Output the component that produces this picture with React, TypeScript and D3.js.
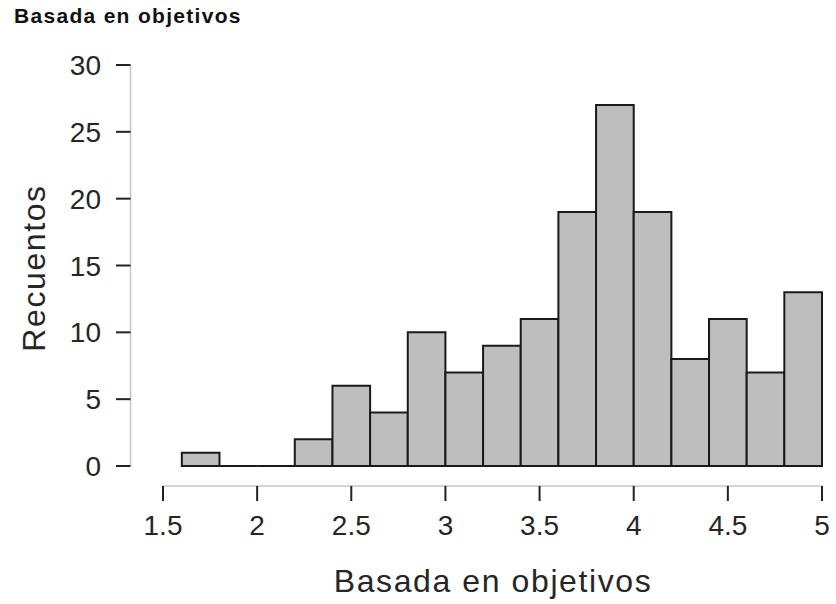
import { useRef, useEffect } from "react";
import * as d3 from "d3";

// histogram bins (0.2 wide) and counts
const binEdges = [1.6, 1.8, 2.0, 2.2, 2.4, 2.6, 2.8, 3.0, 3.2, 3.4, 3.6, 3.8, 4.0, 4.2, 4.4, 4.6, 4.8, 5.0];
const counts = [1, 0, 0, 2, 6, 4, 10, 7, 9, 11, 19, 27, 19, 8, 11, 7, 13];
const xTicks = [1.5, 2, 2.5, 3, 3.5, 4, 4.5, 5];
const yTicks = [0, 5, 10, 15, 20, 25, 30];

const title = "Basada en objetivos";
const xLabel = "Basada en objetivos";
const yLabel = "Recuentos";

export default function App() {
  const svgRef = useRef<SVGSVGElement>(null);

  useEffect(() => {
    if (!svgRef.current) return;
    const svg = d3.select(svgRef.current);
    svg.selectAll("*").remove();

    const font = "'Liberation Sans', Arial, sans-serif";
    const x = d3.scaleLinear().domain([1.5, 5]).range([163, 822]);
    const y = d3.scaleLinear().domain([0, 30]).range([466, 65]);

    const bins = counts.map((c, i) => ({ x0: binEdges[i], x1: binEdges[i + 1], n: c }));

    // Title
    svg
      .append("text")
      .attr("x", 14)
      .attr("y", 23)
      .attr("font-family", font)
      .attr("font-size", "21px")
      .attr("font-weight", "bold")
      .attr("letter-spacing", "1.3px")
      .attr("fill", "#111")
      .text(title);

    // Bars (paths so empty bins still show the baseline)
    svg
      .append("g")
      .selectAll("path")
      .data(bins)
      .enter()
      .append("path")
      .attr("d", (d) => {
        const p = d3.path();
        p.moveTo(x(d.x0), y(0));
        p.lineTo(x(d.x0), y(d.n));
        p.lineTo(x(d.x1), y(d.n));
        p.lineTo(x(d.x1), y(0));
        p.closePath();
        return p.toString();
      })
      .attr("fill", "#bebebe")
      .attr("stroke", "#1a1a1a")
      .attr("stroke-width", 2)
      .attr("stroke-linejoin", "miter");

    // Y axis
    const yAxisX = 130.5;
    svg
      .append("line")
      .attr("x1", yAxisX)
      .attr("x2", yAxisX)
      .attr("y1", y(30))
      .attr("y2", y(0))
      .attr("stroke", "#c4c4c4")
      .attr("stroke-width", 1.5);
    const yt = svg.append("g").selectAll("g").data(yTicks).enter().append("g");
    yt.append("line")
      .attr("x1", 116)
      .attr("x2", yAxisX)
      .attr("y1", (d) => y(d))
      .attr("y2", (d) => y(d))
      .attr("stroke", "#222")
      .attr("stroke-width", 2);
    yt.append("text")
      .attr("x", 101)
      .attr("y", (d) => y(d))
      .attr("dy", "0.36em")
      .attr("text-anchor", "end")
      .attr("font-family", font)
      .attr("font-size", "28px")
      .attr("fill", "#262626")
      .text((d) => d);

    // X axis
    const xAxisY = 486;
    svg
      .append("line")
      .attr("x1", x(1.5))
      .attr("x2", x(5))
      .attr("y1", xAxisY)
      .attr("y2", xAxisY)
      .attr("stroke", "#c4c4c4")
      .attr("stroke-width", 1.5);
    const xt = svg.append("g").selectAll("g").data(xTicks).enter().append("g");
    xt.append("line")
      .attr("x1", (d) => x(d))
      .attr("x2", (d) => x(d))
      .attr("y1", xAxisY)
      .attr("y2", 501)
      .attr("stroke", "#222")
      .attr("stroke-width", 2);
    xt.append("text")
      .attr("x", (d) => x(d))
      .attr("y", 535)
      .attr("text-anchor", "middle")
      .attr("font-family", font)
      .attr("font-size", "28px")
      .attr("fill", "#262626")
      .text((d) => d);

    // Axis titles
    svg
      .append("text")
      .attr("x", 493)
      .attr("y", 592)
      .attr("text-anchor", "middle")
      .attr("font-family", font)
      .attr("font-size", "32px")
      .attr("letter-spacing", "1.6px")
      .attr("fill", "#262626")
      .text(xLabel);

    svg
      .append("text")
      .attr("transform", "translate(45,268) rotate(-90)")
      .attr("text-anchor", "middle")
      .attr("font-family", font)
      .attr("font-size", "32px")
      .attr("letter-spacing", "1.6px")
      .attr("fill", "#262626")
      .text(yLabel);
  }, []);

  return (
    <svg
      ref={svgRef}
      width={836}
      height={604}
      style={{ position: "absolute", left: 0, top: 0, background: "#fff" }}
    />
  );
}
